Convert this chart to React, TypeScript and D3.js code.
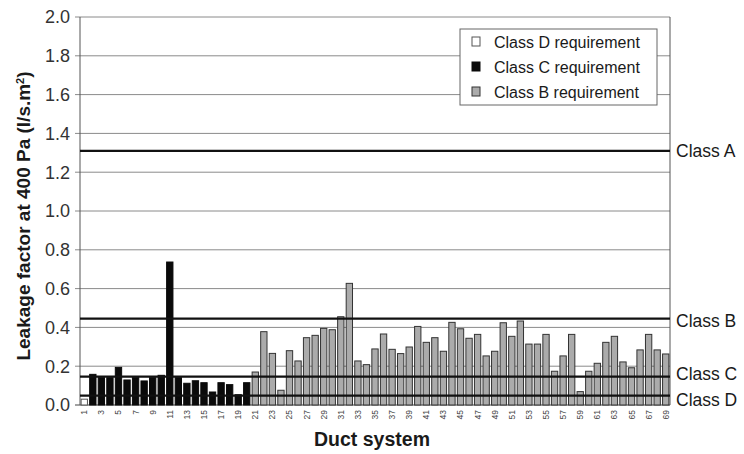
import React from "react";
import * as d3 from "d3";

const systems: number[] = d3.range(1, 70);
const leakage: number[] = [
  0.03, 0.158, 0.141, 0.141, 0.194, 0.129, 0.141, 0.124, 0.141, 0.153,
  0.737, 0.141, 0.112, 0.125, 0.115, 0.067, 0.115, 0.105, 0.053, 0.115,
  0.17, 0.378, 0.266, 0.076, 0.28, 0.227, 0.347, 0.359, 0.395, 0.388,
  0.455, 0.627, 0.227, 0.208, 0.289, 0.366, 0.287, 0.265, 0.299, 0.405,
  0.323, 0.347, 0.277, 0.426, 0.393, 0.344, 0.364, 0.253, 0.277, 0.424,
  0.354, 0.433, 0.314, 0.314, 0.364, 0.174, 0.253, 0.364, 0.069, 0.174,
  0.215, 0.323, 0.354, 0.222, 0.192, 0.284, 0.364, 0.284, 0.263,
];
// requirement class per duct system
const reqClass: string[] = systems.map((s) => (s === 1 ? "D" : s <= 20 ? "C" : "B"));
const classLimits: { name: string; value: number }[] = [
  { name: "Class A", value: 1.31 },
  { name: "Class B", value: 0.445 },
  { name: "Class C", value: 0.146 },
  { name: "Class D", value: 0.048 },
];
const yTicks: number[] = [0, 0.2, 0.4, 0.6, 0.8, 1.0, 1.2, 1.4, 1.6, 1.8, 2.0];
const legendItems: { key: string; label: string }[] = [
  { key: "D", label: "Class D requirement" },
  { key: "C", label: "Class C requirement" },
  { key: "B", label: "Class B requirement" },
];

const fills: Record<string, string> = { D: "#ffffff", C: "#0a0a0a", B: "#ababab" };
const strokes: Record<string, string> = { D: "#555", C: "#0a0a0a", B: "#333" };
const labelShift: Record<string, number> = { "Class A": 6, "Class B": 8, "Class C": 3, "Class D": 10 };

export default function App() {
  const W = 744, H = 454;
  const left = 80, right = 670, top = 17, bottom = 405;
  const x = d3.scaleBand<number>().domain(systems).range([left, right]).paddingInner(0.26).paddingOuter(0.13);
  const y = d3.scaleLinear().domain([0, 2]).range([bottom, top]);
  const font = "'Liberation Sans', Arial, sans-serif";
  const txt = "#1a1a1a";

  return (
    <svg width={W} height={H} style={{ position: "absolute", left: 0, top: 0, background: "#fff" }} fontFamily={font}>
      <rect width={W} height={H} fill="#fff" />
      {yTicks.map((t) => (
        <g key={t}>
          <line x1={left - 5} x2={right} y1={y(t)} y2={y(t)} stroke={t === 0 ? "#444" : "#8a8a8a"} strokeWidth={1} />
          <text x={left - 10} y={y(t)} dy="0.36em" textAnchor="end" fontSize={18} fill="#333">
            {d3.format(".1f")(t)}
          </text>
        </g>
      ))}
      <line x1={left} x2={left} y1={top} y2={bottom} stroke="#555" />
      <line x1={right} x2={right} y1={top} y2={bottom} stroke="#555" />
      {systems.map((s, i) => (
        <rect
          key={s}
          x={x(s)!}
          y={y(leakage[i])}
          width={x.bandwidth()}
          height={y(0) - y(leakage[i])}
          fill={fills[reqClass[i]]}
          stroke={strokes[reqClass[i]]}
          strokeWidth={1}
        />
      ))}
      {classLimits.map((c) => (
        <g key={c.name}>
          <line x1={left} x2={right} y1={y(c.value)} y2={y(c.value)} stroke="#111" strokeWidth={2.2} />
          <text x={right + 6} y={y(c.value) + labelShift[c.name]} fontSize={17.5} fill={txt}>
            {c.name}
          </text>
        </g>
      ))}
      {systems.filter((s) => s % 2 === 1).map((s) => (
        <text
          key={s}
          transform={`translate(${x(s)! + x.bandwidth() / 2},${bottom + 5}) rotate(-90)`}
          textAnchor="end"
          dy="0.35em"
          fontSize={8.5}
          fill="#444"
        >
          {s}
        </text>
      ))}
      <text x={372} y={446} textAnchor="middle" fontSize={19.5} fontWeight="bold" fill={txt}>
        Duct system
      </text>
      <text transform={`translate(30,${(top + bottom) / 2 + 5}) rotate(-90)`} textAnchor="middle" fontSize={19} fontWeight="bold" fill={txt}>
        Leakage factor at 400 Pa (l/s.m
        <tspan baselineShift="super" fontSize={11}>2</tspan>)
      </text>
      <g>
        <rect x={460} y={29} width={197} height={76} fill="#fff" stroke="#666" />
        {legendItems.map((l, i) => (
          <g key={l.key}>
            <rect x={472} y={37 + i * 25} width={8} height={9} fill={fills[l.key]} stroke={strokes[l.key]} />
            <text x={494} y={42 + i * 25} dy="0.36em" fontSize={16} fill={txt}>
              {l.label}
            </text>
          </g>
        ))}
      </g>
    </svg>
  );
}
